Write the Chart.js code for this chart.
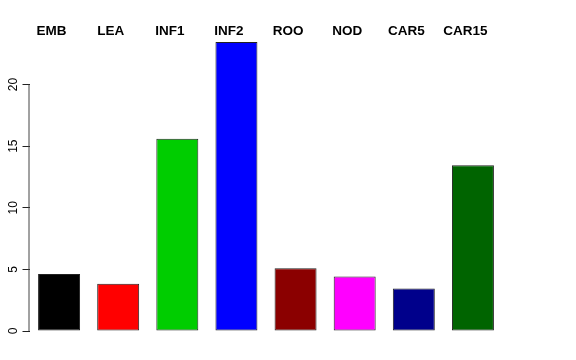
<!DOCTYPE html>
<html>
<head>
<meta charset="utf-8">
<script src="https://cdn.jsdelivr.net/npm/chart.js@4/dist/chart.umd.min.js"></script>
<style>
  html, body { margin: 0; padding: 0; background: #fff; }
  #wrap { width: 576px; height: 360px; }
</style>
</head>
<body>
<div id="wrap"><canvas id="chart" width="576" height="360"></canvas></div>
<script>
// dane
const kategorie = ['EMB', 'LEA', 'INF1', 'INF2', 'ROO', 'NOD', 'CAR5', 'CAR15']
const wartosci = [4.63, 3.84, 15.6, 23.44, 5.1, 4.42, 3.44, 13.45]
const kolory = ['#000000', '#FF0000', '#00CD00', '#0000FF', '#8B0000', '#FF00FF', '#00008B', '#006400']
const yTicks = [0, 5, 10, 15, 20]

// os Y rysowana tylko od 0 do 20, jak w R
const osY = {
  id: 'osY',
  afterDraw(chart) {
    const y = chart.scales.y
    const ctx = chart.ctx
    ctx.save()
    ctx.strokeStyle = '#444'
    ctx.lineWidth = 1
    ctx.beginPath()
    ctx.moveTo(y.right - 0.5, y.getPixelForValue(yTicks[0]))
    ctx.lineTo(y.right - 0.5, y.getPixelForValue(yTicks[yTicks.length - 1]))
    ctx.stroke()
    ctx.restore()
  }
}

const chart = new Chart(document.getElementById('chart'), {
  type: 'bar',
  data: {
    labels: kategorie,
    datasets: [{
      data: wartosci,
      backgroundColor: kolory,
      borderColor: '#222',
      borderWidth: 1,
      borderSkipped: false,
      categoryPercentage: 1,
      barPercentage: 0.71
    }]
  },
  options: {
    responsive: false,
    animation: false,
    devicePixelRatio: 1,
    layout: { padding: { left: 0, right: 73.5, top: 0, bottom: 17.5 } },
    plugins: { legend: { display: false }, tooltip: { enabled: false } },
    scales: {
      x: {
        position: 'top',
        grid: { display: false },
        border: { display: false },
        afterFit: s => { s.height = 41 },
        ticks: {
          color: '#000',
          padding: -6,
          labelOffset: -7.5,
          maxRotation: 0,
          font: { family: 'Liberation Sans, Arial, sans-serif', size: 13.5, weight: 'bold' }
        }
      },
      y: {
        min: -0.933,
        max: 23.53,
        afterBuildTicks: s => { s.ticks = yTicks.map(v => ({ value: v })) },
        afterFit: s => { s.width = 29.5 },
        grid: { drawOnChartArea: false, drawTicks: true, tickLength: 7, color: '#222' },
        border: { display: false },
        ticks: {
          color: '#000',
          minRotation: 90,
          maxRotation: 90,
          crossAlign: 'center',
          padding: 2,
          font: { family: 'Liberation Sans, Arial, sans-serif', size: 12 }
        }
      }
    }
  },
  plugins: [osY]
})
</script>
</body>
</html>
